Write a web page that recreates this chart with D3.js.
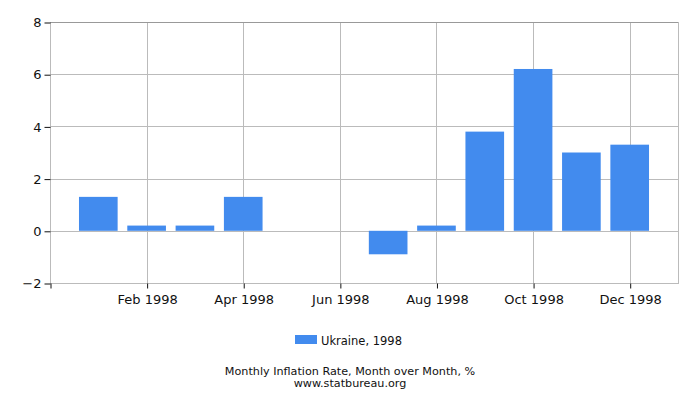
<!DOCTYPE html>
<html>
<head>
<meta charset="utf-8">
<script src="https://cdn.jsdelivr.net/npm/d3@7"></script>
<style>
  body { margin: 0; background: #fff; }
  text { font-family: "DejaVu Sans", sans-serif; fill: #111; }
</style>
</head>
<body>
<svg id="chart" width="700" height="400"></svg>
<script>
// data
var months = ["Jan 1998", "Feb 1998", "Mar 1998", "Apr 1998", "May 1998", "Jun 1998",
              "Jul 1998", "Aug 1998", "Sep 1998", "Oct 1998", "Nov 1998", "Dec 1998"];
var values = [1.3, 0.2, 0.2, 1.3, 0.0, 0.0, -0.9, 0.2, 3.8, 6.2, 3.0, 3.3];
var yTicks = [-2, 0, 2, 4, 6, 8];
var xTicks = ["Feb 1998", "Apr 1998", "Jun 1998", "Aug 1998", "Oct 1998", "Dec 1998"];
var seriesName = "Ukraine, 1998";
var title = "Monthly Inflation Rate, Month over Month, %";
var source = "www.statbureau.org";

// plot area (window.top is reserved, so prefixed names)
var pLeft = 50, pRight = 678, pTop = 22, pBottom = 283;
var svg = d3.select("#chart");

// months placed by index, one empty slot before January
var x = d3.scaleLinear().domain([-1, 12]).range([pLeft, pRight]);
var y = d3.scaleLinear().domain([-2, 8]).range([pBottom, pTop]);
var idx = function(m) { return months.indexOf(m); };

// grid
var g = svg.append("g");
g.selectAll(".hg").data(yTicks).enter().append("line")
    .attr("x1", pLeft).attr("x2", pRight)
    .attr("y1", d => Math.round(y(d)) + 0.5).attr("y2", d => Math.round(y(d)) + 0.5)
    .attr("stroke", "#bbb");
g.selectAll(".vg").data(xTicks).enter().append("line")
    .attr("x1", d => Math.round(x(idx(d))) + 0.5).attr("x2", d => Math.round(x(idx(d))) + 0.5)
    .attr("y1", pTop).attr("y2", pBottom)
    .attr("stroke", "#bbb");
// frame
g.append("rect")
    .attr("x", pLeft + 0.5).attr("y", pTop + 0.5)
    .attr("width", pRight - pLeft).attr("height", pBottom - pTop)
    .attr("fill", "none").attr("stroke", "#bbb");
g.append("line")
    .attr("x1", pLeft).attr("x2", pRight)
    .attr("y1", pTop + 0.5).attr("y2", pTop + 0.5)
    .attr("stroke", "#999");

// bars
var barW = (x(1) - x(0)) * 0.8;
svg.append("g").selectAll("rect").data(values).enter().append("rect")
    .attr("x", (d, i) => x(i) - barW / 2)
    .attr("width", barW)
    .attr("y", d => y(Math.max(0, d)))
    .attr("height", d => Math.abs(y(d) - y(0)))
    .attr("fill", "#428bee");

// y axis
var yAxis = svg.append("g")
    .attr("transform", "translate(" + (pLeft + 0.5) + ",0.5)")
    .call(d3.axisLeft(y).tickValues(yTicks).tickSize(6).tickPadding(3).tickFormat(d3.format("d")));
yAxis.select(".domain").remove();
yAxis.selectAll(".tick line").attr("stroke", "#111");
yAxis.selectAll("text").style("font-size", "13px");

// x axis
var xAxis = svg.append("g")
    .attr("transform", "translate(0.5," + (pBottom + 0.5) + ")")
    .call(d3.axisBottom(x).tickValues([-1].concat(xTicks.map(idx)))
        .tickSize(5).tickPadding(6).tickFormat(d => d < 0 ? "" : months[d]));
xAxis.select(".domain").remove();
xAxis.selectAll(".tick line").attr("stroke", "#111");
xAxis.selectAll("text").style("font-size", "13px");

// legend
svg.append("rect").attr("x", 295).attr("y", 335).attr("width", 22).attr("height", 9).attr("fill", "#428bee");
svg.append("text").attr("x", 321).attr("y", 345).style("font-size", "11.5px").text(seriesName);

// titles
svg.append("text").attr("x", 350).attr("y", 375).attr("text-anchor", "middle")
    .style("font-size", "11.2px").text(title);
svg.append("text").attr("x", 350).attr("y", 386.5).attr("text-anchor", "middle")
    .style("font-size", "11.2px").text(source);
</script>
</body>
</html>
